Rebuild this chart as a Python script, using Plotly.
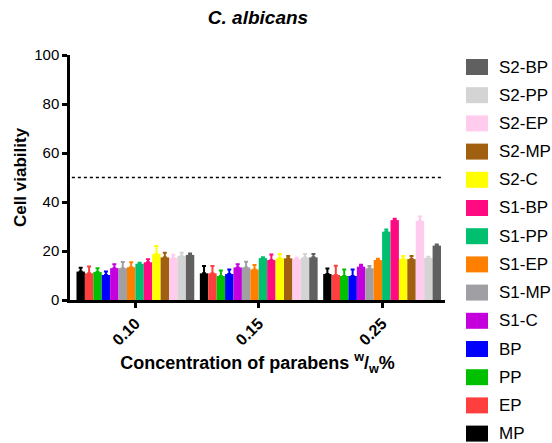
import plotly.graph_objects as go

categories = ["0.10", "0.15", "0.25"]

series_names = ["MP", "EP", "PP", "BP", "S1-C", "S1-MP", "S1-EP", "S1-PP",
                "S1-BP", "S2-C", "S2-MP", "S2-EP", "S2-PP", "S2-BP"]

series_colors = ["#000000", "#ff3e3e", "#00c000", "#0000ff", "#c400dc", "#a0a0a4",
                 "#ff8000", "#00c070", "#ff0a80", "#ffff00", "#a0600f", "#ffccee",
                 "#d4d4d4", "#606060"]

values = {
    "MP":    [11.6, 10.9, 10.6],
    "EP":    [10.9, 10.9, 10.2],
    "PP":    [11.4, 9.8, 9.8],
    "BP":    [10.2, 10.6, 9.8],
    "S1-C":  [13.0, 13.3, 13.6],
    "S1-MP": [13.0, 13.3, 12.9],
    "S1-EP": [13.4, 12.5, 16.3],
    "S1-PP": [14.8, 17.1, 27.9],
    "S1-BP": [15.4, 16.3, 32.6],
    "S2-C":  [18.8, 17.0, 16.7],
    "S2-MP": [17.4, 17.0, 16.7],
    "S2-EP": [17.2, 16.7, 32.3],
    "S2-PP": [18.0, 17.3, 17.2],
    "S2-BP": [18.4, 17.4, 22.2],
}

errors = {
    "MP":    [1.6, 3.0, 2.3],
    "EP":    [2.8, 3.0, 3.8],
    "PP":    [1.6, 2.2, 2.7],
    "BP":    [1.4, 1.8, 2.7],
    "S1-C":  [1.6, 1.3, 0.8],
    "S1-MP": [2.5, 2.3, 1.0],
    "S1-EP": [2.0, 1.8, 0.5],
    "S1-PP": [0.4, 0.3, 0.9],
    "S1-BP": [1.2, 2.3, 0.6],
    "S2-C":  [3.2, 1.8, 1.3],
    "S2-MP": [1.9, 1.0, 1.3],
    "S2-EP": [1.3, 0.5, 1.8],
    "S2-PP": [1.3, 1.5, 0.5],
    "S2-BP": [0.6, 1.4, 0.5],
}

y_ticks = [0, 20, 40, 60, 80, 100]
threshold = 50

FONT = "Liberation Sans, Arial, sans-serif"

fig = go.Figure()
for name, color in zip(series_names, series_colors):
    fig.add_trace(go.Bar(
        name=name, x=categories, y=values[name],
        marker=dict(color=color, line=dict(width=0)),
        error_y=dict(type="data", symmetric=False, array=errors[name],
                     arrayminus=[0, 0, 0], color=color, thickness=2, width=2),
        showlegend=False,
    ))

# threshold dotted line
fig.add_shape(type="line", xref="paper", yref="y", x0=0.005, x1=0.995,
              y0=threshold, y1=threshold,
              line=dict(color="black", width=1.5, dash="dot"))

# manual legend (top entry = last series)
L, R, T, B = 70, 107, 55, 143
PW, PH = 552 - L - R, 443 - T - B
def px_x(px):
    return (px - L) / PW
def px_y(py):
    return (443 - B - py) / PH

for i, (name, color) in enumerate(zip(reversed(series_names), reversed(series_colors))):
    cy = 67 + 28.2 * i
    fig.add_shape(type="rect", xref="paper", yref="paper",
                  x0=px_x(466), x1=px_x(488), y0=px_y(cy + 8), y1=px_y(cy - 8),
                  fillcolor=color, line=dict(width=0))
    fig.add_annotation(xref="paper", yref="paper", x=px_x(497), y=px_y(cy),
                       text=name, showarrow=False, xanchor="left", yanchor="middle",
                       font=dict(family=FONT, size=17, color="black"))

fig.update_layout(
    width=552, height=443,
    margin=dict(l=L, r=R, t=T, b=B),
    paper_bgcolor="white", plot_bgcolor="white",
    barmode="group", bargap=0.045, bargroupgap=0,
    font=dict(family=FONT, color="black"),
    title=dict(text="<b><i>C. albicans</i></b>", x=px_x(258), xref="paper",
               y=1 - 17 / 443, yref="container", xanchor="center", yanchor="middle",
               font=dict(family=FONT, size=19, color="black")),
    xaxis=dict(range=[-0.53, 2.51], showline=True, linecolor="black", linewidth=2.5,
               ticks="outside", ticklen=5, tickwidth=2.5, tickcolor="black",
               tickangle=-45, tickfont=dict(family=FONT, size=16, color="black"),
               tickprefix="<b>", ticksuffix="</b>", showgrid=False, zeroline=False,
               title=dict(text="<b>Concentration of parabens <sup>w</sup>/<sub>w</sub>%</b>",
                          font=dict(family=FONT, size=18, color="black"), standoff=9)),
    yaxis=dict(range=[0, 100], tickvals=y_ticks, showline=True, linecolor="black",
               linewidth=2.5, ticks="outside", ticklen=5, tickwidth=2.5, tickcolor="black",
               tickfont=dict(family=FONT, size=15, color="black"),
               tickprefix="<b>", ticksuffix="</b>", showgrid=False, zeroline=False,
               title=dict(text="<b>Cell viability</b>",
                          font=dict(family=FONT, size=17, color="black"), standoff=4)),
)

fig.write_html("out.html", config={"displayModeBar": False},
               post_script="document.body.style.margin='0';")
